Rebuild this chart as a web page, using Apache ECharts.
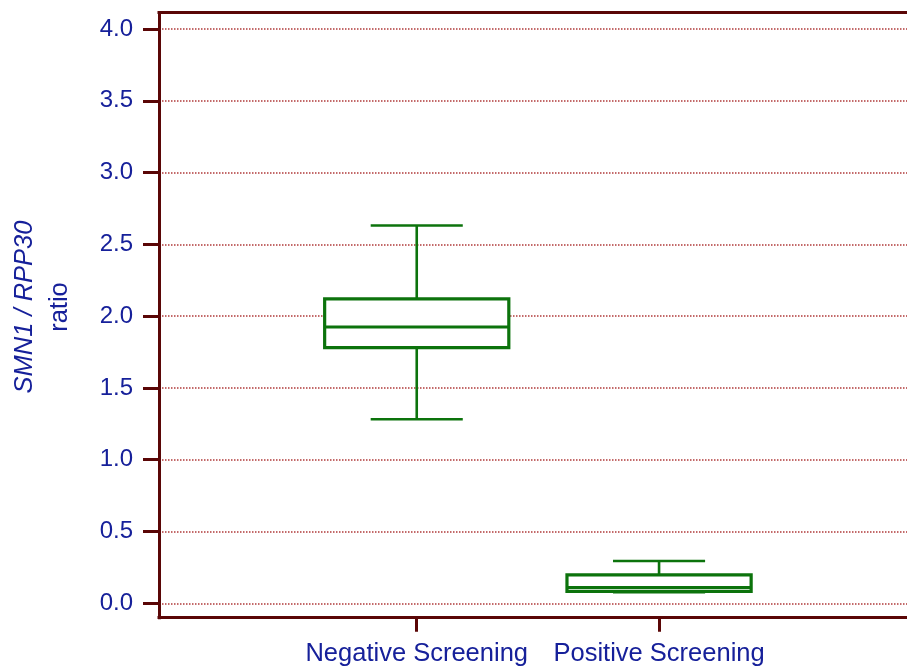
<!DOCTYPE html>
<html>
<head>
<meta charset="utf-8">
<script src="https://cdn.jsdelivr.net/npm/echarts@6/dist/echarts.min.js"></script>
<style>
  html, body { margin: 0; padding: 0; background: #ffffff; }
  #chart { width: 907px; height: 666px; }
</style>
</head>
<body>
<div id="chart"></div>
<script>
// ---- data ----
const categories = ['Negative Screening', 'Positive Screening'];
const categoryPos = [1, 2];
const whiskerLow = [1.282, 0.078];
const quartile1 = [1.781, 0.083];
const medians = [1.925, 0.110];
const quartile3 = [2.121, 0.198];
const whiskerHigh = [2.631, 0.295];
const yTicks = [0, 0.5, 1.0, 1.5, 2.0, 2.5, 3.0, 3.5, 4.0];

// ---- styles ----
const FONT = 'Liberation Sans, Arial, Helvetica, sans-serif';
const TEXT = '#16209a';
const FRAME = '#5a0606';
const GRID = '#b03a3a';
const GREEN = '#0c730c';

const boxData = categories.map(function (c, i) {
  return [categoryPos[i], whiskerLow[i], quartile1[i], medians[i], quartile3[i], whiskerHigh[i]];
});

const BOX_HALF = 0.38;
const CAP_HALF = 0.19;
const X_MIN = -0.0636, X_MAX = 3.147;

const chart = echarts.init(document.getElementById('chart'));
chart.setOption({
  animation: false,
  backgroundColor: '#ffffff',
  grid: {
    left: 159, top: 12.5, right: -30, bottom: 48.3,
    outerBoundsMode: 'none',
    containLabel: false,
    show: false
  },
  xAxis: [{
    type: 'value',
    min: X_MIN, max: X_MAX,
    axisLine: { show: true, onZero: false, lineStyle: { color: FRAME, width: 3, cap: 'square' } },
    axisTick: { show: true, customValues: categoryPos, length: 14, lineStyle: { color: FRAME, width: 3 } },
    axisLabel: {
      customValues: categoryPos,
      formatter: function (v) { return categories[Math.round(v) - 1]; },
      color: TEXT, fontFamily: FONT, fontSize: 25.5, margin: 23
    },
    splitLine: { show: false }
  }, {
    type: 'value',
    position: 'top',
    min: X_MIN, max: X_MAX,
    axisLine: { show: true, onZero: false, lineStyle: { color: FRAME, width: 3, cap: 'square' } },
    axisTick: { show: false },
    axisLabel: { show: false },
    splitLine: { show: false }
  }],
  yAxis: {
    type: 'value',
    min: -0.1003, max: 4.115,
    axisLine: { show: true, onZero: false, lineStyle: { color: FRAME, width: 3, cap: 'square' } },
    axisTick: { show: true, customValues: yTicks, length: 16, lineStyle: { color: FRAME, width: 3 } },
    axisLabel: {
      customValues: yTicks,
      formatter: function (v) { return v.toFixed(1); },
      color: TEXT, fontFamily: FONT, fontSize: 24, margin: 26
    },
    splitLine: { show: true, lineStyle: { color: GRID, width: 1.5, type: 'dotted' } }
  },
  graphic: [{
    type: 'text',
    x: 42, y: 307,
    rotation: Math.PI / 2,
    style: {
      text: '{a|SMN1 / RPP30}\n{b|ratio}',
      align: 'center',
      verticalAlign: 'middle',
      fill: TEXT,
      rich: {
        a: { fontFamily: FONT, fontSize: 25.5, fontStyle: 'italic', lineHeight: 35, fill: TEXT, align: 'center' },
        b: { fontFamily: FONT, fontSize: 25.5, lineHeight: 35, fill: TEXT, align: 'center' }
      }
    }
  }],
  series: [{
    type: 'custom',
    xAxisIndex: 0,
    data: boxData,
    encode: { x: 0, y: [1, 2, 3, 4, 5] },
    renderItem: function (params, api) {
      const x = api.value(0);
      const pLow = api.coord([x, api.value(1)]);
      const pQ1 = api.coord([x, api.value(2)]);
      const pMed = api.coord([x, api.value(3)]);
      const pQ3 = api.coord([x, api.value(4)]);
      const pHigh = api.coord([x, api.value(5)]);
      const cx = pMed[0];
      const bh = api.size([BOX_HALF, 0])[0];
      const ch = api.size([CAP_HALF, 0])[0];
      const thin = { stroke: GREEN, lineWidth: 2.6, fill: null };
      const mid = { stroke: GREEN, lineWidth: 3, fill: null };
      return {
        type: 'group',
        children: [
          { type: 'line', shape: { x1: cx, y1: pHigh[1], x2: cx, y2: pQ3[1] }, style: thin },
          { type: 'line', shape: { x1: cx, y1: pLow[1], x2: cx, y2: pQ1[1] }, style: thin },
          { type: 'line', shape: { x1: cx - ch, y1: pHigh[1], x2: cx + ch, y2: pHigh[1] }, style: thin },
          { type: 'line', shape: { x1: cx - ch, y1: pLow[1], x2: cx + ch, y2: pLow[1] }, style: thin },
          { type: 'rect', shape: { x: cx - bh, y: pQ3[1], width: 2 * bh, height: pQ1[1] - pQ3[1] },
            style: { fill: '#ffffff', stroke: GREEN, lineWidth: 3.2 } },
          { type: 'line', shape: { x1: cx - bh, y1: pMed[1], x2: cx + bh, y2: pMed[1] }, style: mid }
        ]
      };
    }
  }]
});
</script>
</body>
</html>
